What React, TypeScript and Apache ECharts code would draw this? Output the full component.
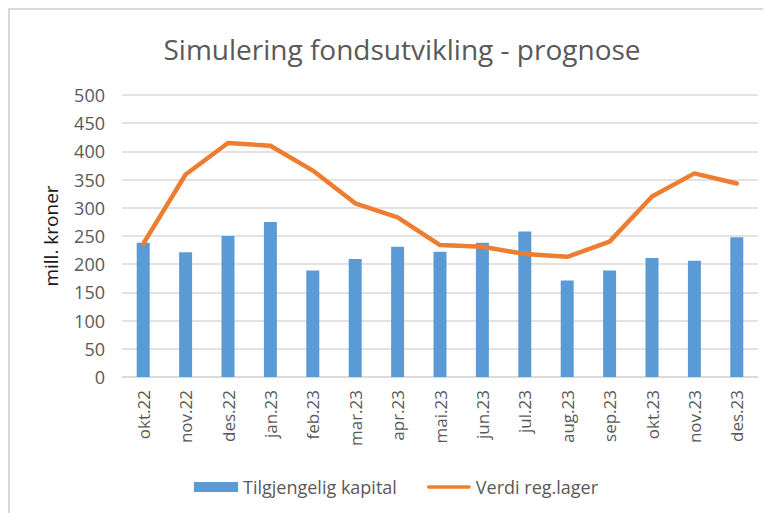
import React, { useEffect, useRef } from "react";
import * as echarts from "echarts";

const categories = [
  "okt.22", "nov.22", "des.22", "jan.23", "feb.23", "mar.23", "apr.23", "mai.23",
  "jun.23", "jul.23", "aug.23", "sep.23", "okt.23", "nov.23", "des.23",
];
const tilgjengeligKapital = [238, 221, 250, 275, 189, 209, 231, 222, 238, 258, 171, 189, 211, 206, 248];
const verdiRegLager = [236, 359, 415, 410, 366, 308, 283, 234, 231, 218, 213, 240, 320, 361, 343];
const yTicks = { min: 0, max: 500, interval: 50 };

const FONT = "'Open Sans', sans-serif";
const GREY = "#595959";

export default function App() {
  const ref = useRef<HTMLDivElement>(null);
  useEffect(() => {
    if (!ref.current) return;
    const chart = echarts.init(ref.current, null, { renderer: "svg" });
    chart.setOption({
      animation: false,
      textStyle: { fontFamily: FONT },
      title: {
        text: "Simulering fondsutvikling - prognose",
        left: 389,
        textAlign: "center",
        top: 22,
        textStyle: { fontFamily: FONT, fontSize: 28, fontWeight: "normal", color: GREY },
      },
      graphic: [
        { type: "rect", shape: { x: 0, y: 0, width: 763, height: 2 }, style: { fill: "#d9d9d9" }, silent: true },
        { type: "rect", shape: { x: 0, y: 0, width: 2, height: 505 }, style: { fill: "#d9d9d9" }, silent: true },
      ],
      legend: {
        left: 181,
        top: 465,
        itemGap: 30,
        itemWidth: 44,
        itemHeight: 10,
        textStyle: { fontFamily: FONT, fontSize: 18, color: GREY },
        data: [
          { name: "Tilgjengelig kapital", icon: "rect" },
          {
            name: "Verdi reg.lager",
            icon: "path://M2,0 L46,0 A2,2 0 0 1 46,4 L2,4 A2,2 0 0 1 2,0 Z",
            itemStyle: { color: "#ED7D31" },
          },
        ],
      },
      grid: { left: 114, right: 13, top: 87, bottom: 136, containLabel: false },
      xAxis: {
        type: "category",
        data: categories,
        axisLine: { show: true, lineStyle: { color: "#d9d9d9", width: 1.5 } },
        axisTick: { show: false },
        axisLabel: {
          rotate: 90,
          interval: 0,
          margin: 13,
          fontFamily: FONT,
          fontSize: 17,
          color: GREY,
        },
      },
      yAxis: {
        type: "value",
        min: yTicks.min,
        max: yTicks.max,
        interval: yTicks.interval,
        name: "mill. kroner",
        nameLocation: "middle",
        nameRotate: 90,
        nameGap: 62,
        nameTextStyle: { fontFamily: FONT, fontSize: 19, color: "#1a1a1a" },
        axisLine: { show: false },
        axisTick: { show: false },
        axisLabel: { margin: 17, fontFamily: FONT, fontSize: 18, color: GREY },
        splitLine: { lineStyle: { color: "#d9d9d9", width: 1.5 } },
      },
      series: [
        {
          name: "Tilgjengelig kapital",
          type: "bar",
          data: tilgjengeligKapital,
          barWidth: 13,
          itemStyle: { color: "#5B9BD5" },
        },
        {
          name: "Verdi reg.lager",
          type: "line",
          data: verdiRegLager,
          symbol: "none",
          lineStyle: { color: "#ED7D31", width: 4.5, cap: "round", join: "round" },
          itemStyle: { color: "#ED7D31" },
        },
      ],
    });
    return () => chart.dispose();
  }, []);
  return <div ref={ref} style={{ width: 763, height: 505 }} />;
}
